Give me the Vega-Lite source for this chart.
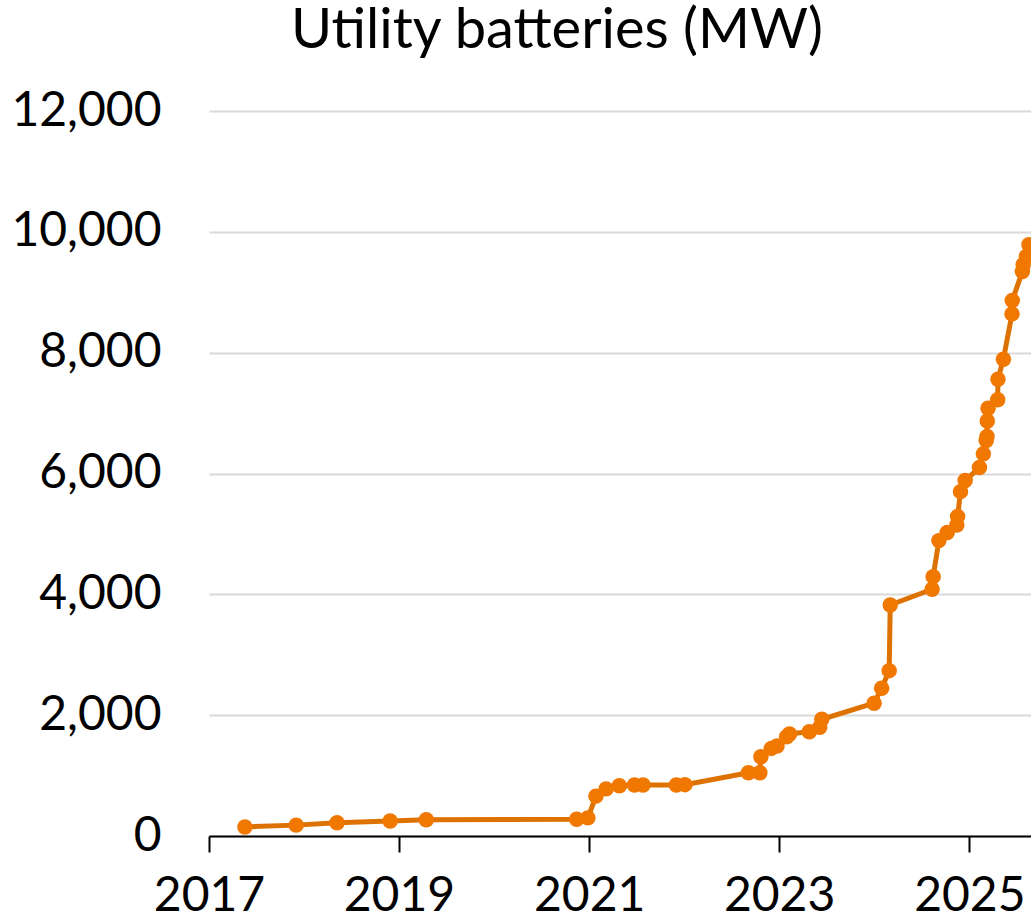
{
  "$schema": "https://vega.github.io/schema/vega-lite/v6.json",
  "width": 822,
  "height": 725,
  "autosize": {"type": "none"},
  "padding": {"left": 209, "top": 111, "right": 0, "bottom": 84},
  "background": "white",
  "title": {
    "text": "Utility batteries (MW)",
    "font": "Lato",
    "fontSize": 56,
    "fontWeight": "normal",
    "color": "black",
    "anchor": "middle",
    "frame": "group",
    "dx": -63,
    "offset": 27
  },
  "config": {
    "view": {"stroke": null},
    "axis": {
      "labelFont": "Lato",
      "labelFontSize": 48,
      "labelColor": "black",
      "titleFontSize": 0
    }
  },
  "data": {
    "values": [
      {"date": "2017-05-19", "mw": 150},
      {"date": "2017-12-02", "mw": 180},
      {"date": "2018-05-08", "mw": 220},
      {"date": "2018-11-28", "mw": 248},
      {"date": "2019-04-16", "mw": 270},
      {"date": "2020-11-14", "mw": 276},
      {"date": "2020-12-27", "mw": 300},
      {"date": "2021-01-27", "mw": 660},
      {"date": "2021-03-07", "mw": 780},
      {"date": "2021-04-27", "mw": 833},
      {"date": "2021-06-24", "mw": 844},
      {"date": "2021-07-27", "mw": 844},
      {"date": "2021-12-02", "mw": 844},
      {"date": "2022-01-04", "mw": 850},
      {"date": "2022-09-05", "mw": 1048},
      {"date": "2022-10-19", "mw": 1048},
      {"date": "2022-10-23", "mw": 1313},
      {"date": "2022-12-02", "mw": 1450},
      {"date": "2022-12-24", "mw": 1490},
      {"date": "2023-01-30", "mw": 1644},
      {"date": "2023-02-10", "mw": 1689},
      {"date": "2023-04-27", "mw": 1727},
      {"date": "2023-06-06", "mw": 1800},
      {"date": "2023-06-14", "mw": 1932},
      {"date": "2024-01-01", "mw": 2197},
      {"date": "2024-01-30", "mw": 2445},
      {"date": "2024-02-28", "mw": 2737},
      {"date": "2024-03-03", "mw": 3825},
      {"date": "2024-08-11", "mw": 4084},
      {"date": "2024-08-15", "mw": 4293},
      {"date": "2024-09-06", "mw": 4889},
      {"date": "2024-10-08", "mw": 5022},
      {"date": "2024-11-14", "mw": 5149},
      {"date": "2024-11-17", "mw": 5287},
      {"date": "2024-11-28", "mw": 5700},
      {"date": "2024-12-16", "mw": 5883},
      {"date": "2025-02-09", "mw": 6098},
      {"date": "2025-02-24", "mw": 6325},
      {"date": "2025-03-07", "mw": 6545},
      {"date": "2025-03-10", "mw": 6611},
      {"date": "2025-03-11", "mw": 6870},
      {"date": "2025-03-14", "mw": 7080},
      {"date": "2025-04-20", "mw": 7219},
      {"date": "2025-04-21", "mw": 7561},
      {"date": "2025-05-12", "mw": 7892},
      {"date": "2025-06-14", "mw": 8642},
      {"date": "2025-06-15", "mw": 8863},
      {"date": "2025-07-24", "mw": 9343},
      {"date": "2025-07-27", "mw": 9454},
      {"date": "2025-08-08", "mw": 9591},
      {"date": "2025-08-18", "mw": 9785}
    ]
  },
  "encoding": {
    "x": {
      "field": "date",
      "type": "temporal",
      "scale": {
        "type": "utc",
        "domain": [{"year": 2017, "month": 1, "date": 1, "utc": true}, {"year": 2025, "month": 8, "date": 26, "utc": true}]
      },
      "axis": {
        "title": null,
        "values": [
          {"year": 2017, "month": 1, "date": 1, "utc": true},
          {"year": 2019, "month": 1, "date": 1, "utc": true},
          {"year": 2021, "month": 1, "date": 1, "utc": true},
          {"year": 2023, "month": 1, "date": 1, "utc": true},
          {"year": 2025, "month": 1, "date": 1, "utc": true}
        ],
        "format": "%Y",
        "formatType": "utc",
        "grid": false,
        "domainColor": "black",
        "domainWidth": 2,
        "tickColor": "black",
        "tickWidth": 2,
        "tickSize": 16,
        "labelPadding": 20,
        "labelFlush": false,
        "labelOverlap": false
      }
    },
    "y": {
      "field": "mw",
      "type": "quantitative",
      "scale": {"domain": [0, 12000], "nice": false},
      "axis": {
        "title": null,
        "values": [0, 2000, 4000, 6000, 8000, 10000, 12000],
        "format": ",d",
        "domain": false,
        "ticks": false,
        "grid": true,
        "gridColor": "#d9d9d9",
        "gridWidth": 2,
        "labelPadding": 48
      }
    }
  },
  "layer": [
    {
      "mark": {"type": "line", "color": "#DE7200", "strokeWidth": 5, "clip": true}
    },
    {
      "mark": {"type": "point", "filled": true, "opacity": 1, "color": "#F07800", "size": 240, "clip": true}
    }
  ]
}
